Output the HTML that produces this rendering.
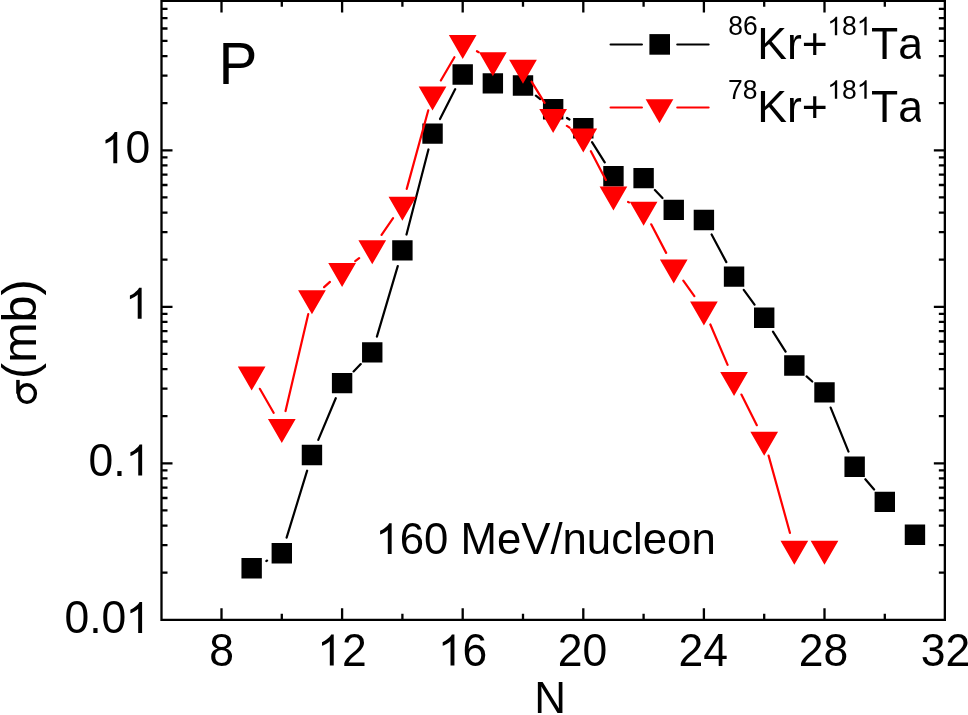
<!DOCTYPE html>
<html><head><meta charset="utf-8"><style>
html,body{margin:0;padding:0;background:#fff;width:968px;height:715px;overflow:hidden}
svg{display:block;will-change:transform}
text{font-family:"Liberation Sans", sans-serif;fill:#000;font-kerning:none}
</style></head><body>
<svg width="968" height="715" viewBox="0 0 968 715">
<path d="M161.50 0.80V619.80H944.85V0.80H161.50z" stroke="#000" stroke-width="2.30" fill="none" stroke-linejoin="miter" stroke-linecap="square"/>
<path d="M221.50 619.80V608.20M221.50 0.80V12.40M281.80 619.80V613.80M281.80 0.80V6.80M342.10 619.80V608.20M342.10 0.80V12.40M402.40 619.80V613.80M402.40 0.80V6.80M462.70 619.80V608.20M462.70 0.80V12.40M523.00 619.80V613.80M523.00 0.80V6.80M583.30 619.80V608.20M583.30 0.80V12.40M643.60 619.80V613.80M643.60 0.80V6.80M703.90 619.80V608.20M703.90 0.80V12.40M764.20 619.80V613.80M764.20 0.80V6.80M824.50 619.80V608.20M824.50 0.80V12.40M884.80 619.80V613.80M884.80 0.80V6.80M161.50 572.69H167.50M944.85 572.69H938.85M161.50 545.13H167.50M944.85 545.13H938.85M161.50 525.58H167.50M944.85 525.58H938.85M161.50 510.41H167.50M944.85 510.41H938.85M161.50 498.02H167.50M944.85 498.02H938.85M161.50 487.54H167.50M944.85 487.54H938.85M161.50 478.47H167.50M944.85 478.47H938.85M161.50 470.46H167.50M944.85 470.46H938.85M161.50 463.30H172.50M944.85 463.30H933.85M161.50 416.19H167.50M944.85 416.19H938.85M161.50 388.63H167.50M944.85 388.63H938.85M161.50 369.08H167.50M944.85 369.08H938.85M161.50 353.91H167.50M944.85 353.91H938.85M161.50 341.52H167.50M944.85 341.52H938.85M161.50 331.04H167.50M944.85 331.04H938.85M161.50 321.97H167.50M944.85 321.97H938.85M161.50 313.96H167.50M944.85 313.96H938.85M161.50 306.80H172.50M944.85 306.80H933.85M161.50 259.69H167.50M944.85 259.69H938.85M161.50 232.13H167.50M944.85 232.13H938.85M161.50 212.58H167.50M944.85 212.58H938.85M161.50 197.41H167.50M944.85 197.41H938.85M161.50 185.02H167.50M944.85 185.02H938.85M161.50 174.54H167.50M944.85 174.54H938.85M161.50 165.47H167.50M944.85 165.47H938.85M161.50 157.46H167.50M944.85 157.46H938.85M161.50 150.30H172.50M944.85 150.30H933.85M161.50 103.19H167.50M944.85 103.19H938.85M161.50 75.63H167.50M944.85 75.63H938.85M161.50 56.08H167.50M944.85 56.08H938.85M161.50 40.91H167.50M944.85 40.91H938.85M161.50 28.52H167.50M944.85 28.52H938.85M161.50 18.04H167.50M944.85 18.04H938.85M161.50 8.97H167.50M944.85 8.97H938.85" stroke="#000" stroke-width="2.30" fill="none"/>
<path d="M266.33 560.99L267.12 560.61M286.61 537.62L307.14 470.68M318.29 439.88L335.76 398.22M353.59 371.40L360.76 364.10M376.90 336.67L397.75 266.13M406.50 234.52L428.45 149.48M440.00 118.99L455.25 89.11M535.89 95.64L540.26 99.06M567.00 117.98L569.45 119.52M592.02 142.19L604.73 162.41M654.88 190.00L662.47 198.00M711.61 234.47L726.34 262.13M743.74 289.83L754.51 304.57M772.96 331.66L785.59 351.64M806.59 376.42L812.26 381.48M830.66 407.60L848.49 451.60M865.34 479.24L874.11 489.46" stroke="#000" stroke-width="2.20" fill="none" stroke-linecap="round"/>
<path d="M241.45 558.10h20.40v20.40h-20.40zM271.60 543.10h20.40v20.40h-20.40zM301.75 444.80h20.40v20.40h-20.40zM331.90 372.90h20.40v20.40h-20.40zM362.05 342.20h20.40v20.40h-20.40zM392.20 240.20h20.40v20.40h-20.40zM422.35 123.40h20.40v20.40h-20.40zM452.50 64.30h20.40v20.40h-20.40zM482.65 73.20h20.40v20.40h-20.40zM512.80 75.30h20.40v20.40h-20.40zM542.95 99.00h20.40v20.40h-20.40zM573.10 118.10h20.40v20.40h-20.40zM603.25 166.10h20.40v20.40h-20.40zM633.40 167.90h20.40v20.40h-20.40zM663.55 199.70h20.40v20.40h-20.40zM693.70 209.80h20.40v20.40h-20.40zM723.85 266.40h20.40v20.40h-20.40zM754.00 307.60h20.40v20.40h-20.40zM784.15 355.30h20.40v20.40h-20.40zM814.30 382.20h20.40v20.40h-20.40zM844.45 456.60h20.40v20.40h-20.40zM874.60 491.70h20.40v20.40h-20.40zM904.75 524.60h20.40v20.40h-20.40z" fill="#000"/>
<path d="M259.83 388.81L273.62 412.79M285.54 411.03L308.21 314.17M324.11 287.19L329.94 281.91M355.22 261.06L359.13 258.14M381.58 234.81L393.07 218.19M406.73 188.88L428.22 110.42M440.84 80.45L454.41 57.25M476.94 51.23L478.61 52.17M531.57 81.68L544.58 102.92M566.88 125.87L569.57 127.63M590.87 151.15L605.88 179.95M628.07 201.92L628.98 202.38M651.21 224.33L666.14 252.87M683.31 280.72L694.34 296.08M710.35 324.48L727.60 364.82M741.42 394.55L756.83 425.15M768.57 455.61L789.98 532.99" stroke="#f00" stroke-width="2.20" fill="none" stroke-linecap="round"/>
<path d="M237.80 366.60L265.50 366.60L251.65 390.60zM267.95 419.00L295.65 419.00L281.80 443.00zM298.10 290.20L325.80 290.20L311.95 314.20zM328.25 262.90L355.95 262.90L342.10 286.90zM358.40 240.30L386.10 240.30L372.25 264.30zM388.55 196.70L416.25 196.70L402.40 220.70zM418.70 86.60L446.40 86.60L432.55 110.60zM448.85 35.10L476.55 35.10L462.70 59.10zM479.00 52.30L506.70 52.30L492.85 76.30zM509.15 59.70L536.85 59.70L523.00 83.70zM539.30 108.90L567.00 108.90L553.15 132.90zM569.45 128.60L597.15 128.60L583.30 152.60zM599.60 186.50L627.30 186.50L613.45 210.50zM629.75 201.80L657.45 201.80L643.60 225.80zM659.90 259.40L687.60 259.40L673.75 283.40zM690.05 301.40L717.75 301.40L703.90 325.40zM720.20 371.90L747.90 371.90L734.05 395.90zM750.35 431.80L778.05 431.80L764.20 455.80zM780.50 540.80L808.20 540.80L794.35 564.80zM810.65 540.80L838.35 540.80L824.50 564.80z" fill="#f00"/>
<path d="M610.6 44.5H641.9M677.3 44.5H708.6" stroke="#000" stroke-width="2.20" stroke-linecap="round"/>
<path d="M649.40 34.10h20.60v20.60h-20.60z" fill="#000"/>
<path d="M610.6 107.5H641.9M677.3 107.5H708.6" stroke="#f00" stroke-width="2.20" stroke-linecap="round"/>
<path d="M645.65 99.30L673.35 99.30L659.50 123.30z" fill="#f00"/>
<path transform="translate(100.65 163.20) scale(0.02173 -0.02112)" d="M763 0L583 0L583 1147Q518 1085 465 1054Q412 1023 359.5 992Q307 961 223 930L223 1104Q374 1175 430.5 1225.5Q487 1276 543.5 1326.5Q600 1377 647 1472L763 1472Z"/>
<text transform="translate(125.40 163.20) scale(1 1.0290)" font-size="44.50">0</text>
<path transform="translate(125.05 318.80) scale(0.02173 -0.02112)" d="M763 0L583 0L583 1147Q518 1085 465 1054Q412 1023 359.5 992Q307 961 223 930L223 1104Q374 1175 430.5 1225.5Q487 1276 543.5 1326.5Q600 1377 647 1472L763 1472Z"/>
<text transform="translate(88.46 475.60) scale(1 1.0290)" font-size="44.50">0.</text>
<path transform="translate(125.57 475.60) scale(0.02173 -0.02112)" d="M763 0L583 0L583 1147Q518 1085 465 1054Q412 1023 359.5 992Q307 961 223 930L223 1104Q374 1175 430.5 1225.5Q487 1276 543.5 1326.5Q600 1377 647 1472L763 1472Z"/>
<text transform="translate(64.46 633.00) scale(1 1.0290)" font-size="44.50">0.0</text>
<path transform="translate(125.52 633.00) scale(0.02173 -0.02112)" d="M763 0L583 0L583 1147Q518 1085 465 1054Q412 1023 359.5 992Q307 961 223 930L223 1104Q374 1175 430.5 1225.5Q487 1276 543.5 1326.5Q600 1377 647 1472L763 1472Z"/>
<text transform="translate(209.27 665.50) scale(1 1.0290)" font-size="44.50">8</text>
<path transform="translate(317.15 665.50) scale(0.02173 -0.02112)" d="M763 0L583 0L583 1147Q518 1085 465 1054Q412 1023 359.5 992Q307 961 223 930L223 1104Q374 1175 430.5 1225.5Q487 1276 543.5 1326.5Q600 1377 647 1472L763 1472Z"/>
<text transform="translate(341.90 665.50) scale(1 1.0290)" font-size="44.50">2</text>
<path transform="translate(437.85 665.50) scale(0.02173 -0.02112)" d="M763 0L583 0L583 1147Q518 1085 465 1054Q412 1023 359.5 992Q307 961 223 930L223 1104Q374 1175 430.5 1225.5Q487 1276 543.5 1326.5Q600 1377 647 1472L763 1472Z"/>
<text transform="translate(462.60 665.50) scale(1 1.0290)" font-size="44.50">6</text>
<text transform="translate(557.86 665.50) scale(1 1.0290)" font-size="44.50">20</text>
<text transform="translate(678.46 665.50) scale(1 1.0290)" font-size="44.50">24</text>
<text transform="translate(798.76 665.50) scale(1 1.0290)" font-size="44.50">28</text>
<text transform="translate(920.81 665.50) scale(1 1.0290)" font-size="44.50">32</text>
<text x="534.29" y="713.30" font-size="44.00">N</text>
<text x="218.62" y="84.40" font-size="58.30">P</text>
<g transform="translate(380.10 553.90) scale(0.9943 1) translate(-380.10 -553.90)"><path transform="translate(375.31 553.90) scale(0.02148 -0.02088)" d="M763 0L583 0L583 1147Q518 1085 465 1054Q412 1023 359.5 992Q307 961 223 930L223 1104Q374 1175 430.5 1225.5Q487 1276 543.5 1326.5Q600 1377 647 1472L763 1472Z"/>
<text transform="translate(399.78 553.90) scale(1 1.0290)" font-size="44.00">60</text>
<text x="460.95" y="553.90" font-size="44.00">MeV/nucleon</text></g>
<text transform="translate(728.25 35.20) scale(1 1.0290)" font-size="26.50">86</text>
<text x="757.25" y="59.20" font-size="44.50">Kr+</text>
<path transform="translate(827.31 35.20) scale(0.01294 -0.01258)" d="M763 0L583 0L583 1147Q518 1085 465 1054Q412 1023 359.5 992Q307 961 223 930L223 1104Q374 1175 430.5 1225.5Q487 1276 543.5 1326.5Q600 1377 647 1472L763 1472Z"/>
<text transform="translate(842.05 35.20) scale(1 1.0290)" font-size="26.50">8</text>
<path transform="translate(856.79 35.20) scale(0.01294 -0.01258)" d="M763 0L583 0L583 1147Q518 1085 465 1054Q412 1023 359.5 992Q307 961 223 930L223 1104Q374 1175 430.5 1225.5Q487 1276 543.5 1326.5Q600 1377 647 1472L763 1472Z"/>
<text x="871.00" y="59.20" font-size="44.50">Ta</text>
<rect x="920.7" y="49.5" width="4" height="12" fill="#fff"/>
<text transform="translate(728.04 98.70) scale(1 1.0290)" font-size="26.50">78</text>
<text x="757.25" y="122.20" font-size="44.50">Kr+</text>
<path transform="translate(827.31 98.70) scale(0.01294 -0.01258)" d="M763 0L583 0L583 1147Q518 1085 465 1054Q412 1023 359.5 992Q307 961 223 930L223 1104Q374 1175 430.5 1225.5Q487 1276 543.5 1326.5Q600 1377 647 1472L763 1472Z"/>
<text transform="translate(842.05 98.70) scale(1 1.0290)" font-size="26.50">8</text>
<path transform="translate(856.79 98.70) scale(0.01294 -0.01258)" d="M763 0L583 0L583 1147Q518 1085 465 1054Q412 1023 359.5 992Q307 961 223 930L223 1104Q374 1175 430.5 1225.5Q487 1276 543.5 1326.5Q600 1377 647 1472L763 1472Z"/>
<text x="871.00" y="122.20" font-size="44.50">Ta</text>
<rect x="920.7" y="112.5" width="4" height="12" fill="#fff"/>
<text transform="translate(36.3 379.0) rotate(-90)" font-size="48.5">(mb)</text>
<ellipse cx="26.95" cy="393.6" rx="8.45" ry="8.8" fill="none" stroke="#000" stroke-width="3.4"/>
<rect x="16.2" y="379.9" width="3.5" height="13.7"/>
</svg>
</body></html>
